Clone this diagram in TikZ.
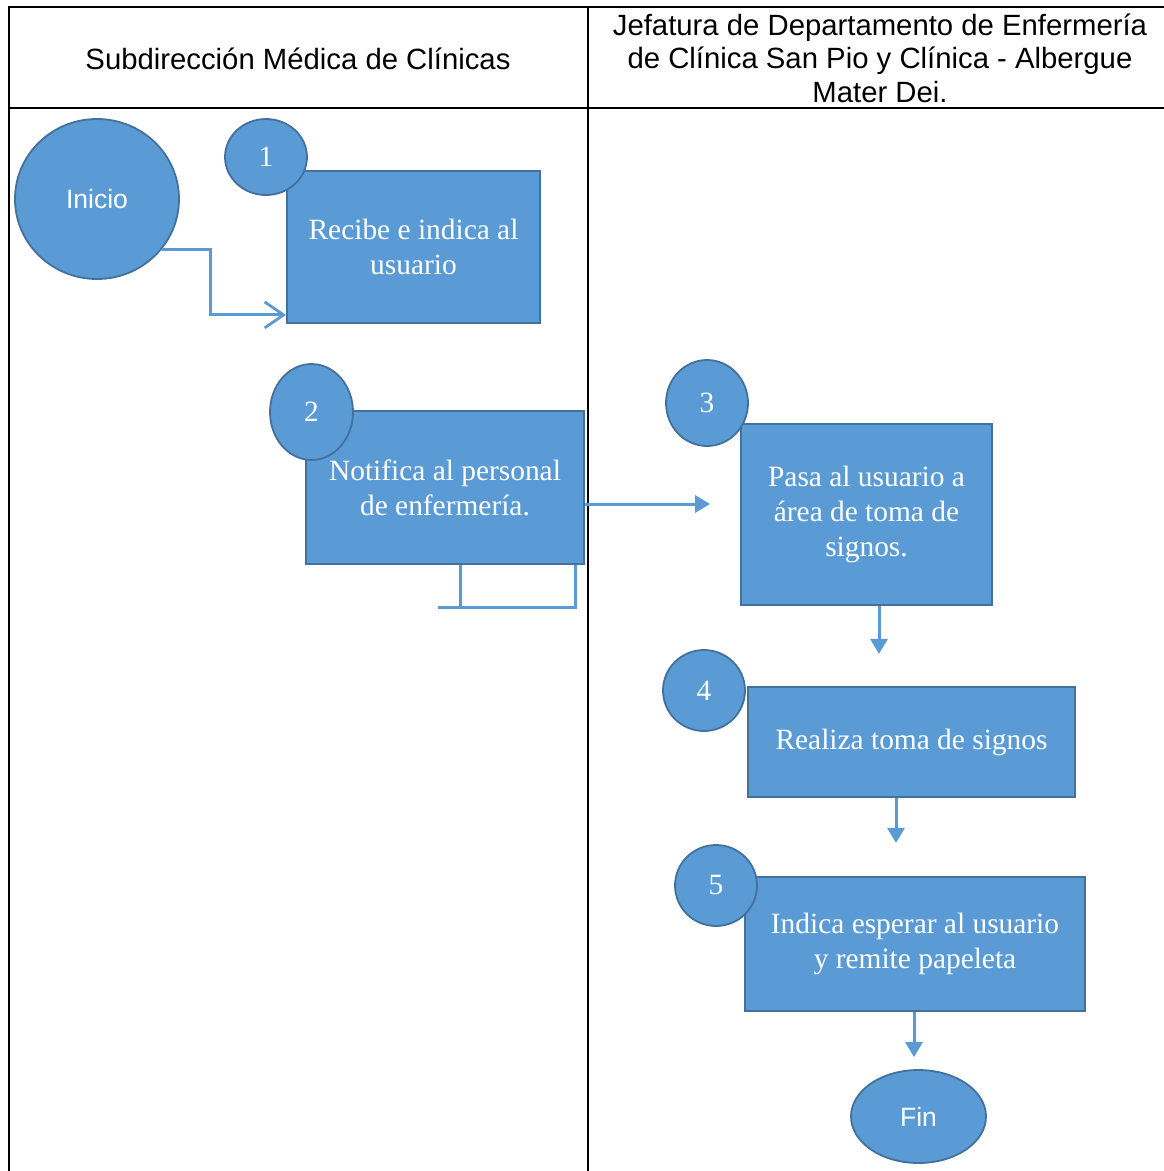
\documentclass[tikz,border=0pt]{standalone}
\usepackage{fontspec}
\setmainfont{Liberation Serif}
\newfontfamily\arialf{Liberation Sans}
\usetikzlibrary{arrows.meta,calc,shapes.geometric}
\definecolor{boxfill}{HTML}{5B9BD5}
\definecolor{boxline}{HTML}{41719C}
\tikzset{
  stepbox/.style={rectangle,draw=boxline,fill=boxfill,line width=1.8pt,text=white,align=center,font=\fontsize{29.4}{35}\selectfont,inner sep=0pt},
  numcirc/.style={ellipse,draw=boxline,fill=boxfill,line width=1.8pt,text=white,font=\fontsize{29.4}{35}\selectfont,inner sep=0pt},
  termshape/.style={ellipse,draw=boxline,fill=boxfill,line width=1.8pt,text=white,font=\arialf\fontsize{26.5}{31}\selectfont,inner sep=0pt},
  flow/.style={draw=boxfill,line width=3pt,-{Triangle[length=15pt,width=17pt]}},
  openflow/.style={draw=boxfill,line width=3pt,-{Straight Barb[length=19pt,width=26pt,line width=2.8pt]}},
  plainline/.style={draw=boxfill,line width=3pt},
  hdr/.style={align=center,font=\arialf\fontsize{29.3}{33.5}\selectfont,inner sep=0pt},
  frame/.style={draw=black,line width=2pt}
}
\begin{document}
\begin{tikzpicture}[x=1pt,y=-1pt]
\useasboundingbox (0,0) rectangle (1164,1171);
\fill[white] (0,0) rectangle (1164,1171);
% frame
\draw[frame] (9,1172) -- (9,7) -- (1166,7);
\draw[frame] (9,108) -- (1166,108);
\draw[frame] (588,7) -- (588,1172);
% headers
\node[hdr] (h1) at (298,59) {Subdirección Médica de Clínicas};
\node[hdr] (h2) at (880,58) {Jefatura de Departamento de Enfermería\\de Clínica San Pio y Clínica - Albergue\\Mater Dei.};
% boxes
\node[stepbox,minimum width=253pt,minimum height=152pt] (b1) at (413.5,247) {Recibe e indica al\\usuario};
\node[stepbox,minimum width=278pt,minimum height=153pt] (b2) at (445,487.5) {Notifica al personal\\de enfermería.};
\node[stepbox,minimum width=251pt,minimum height=181pt] (b3) at (866.5,514.5) {Pasa al usuario a\\área de toma de\\signos.};
\node[stepbox,minimum width=327pt,minimum height=110pt] (b4) at (911.5,742) {Realiza toma de signos};
\node[stepbox,minimum width=340pt,minimum height=134pt] (b5) at (915,944) {Indica esperar al usuario\\y remite papeleta};
% circles
\node[termshape,minimum width=164pt,minimum height=160pt] (inicio) at (97,199) {Inicio};
\node[numcirc,minimum width=82pt,minimum height=76pt] (c1) at (266,157) {1};
\node[numcirc,minimum width=83pt,minimum height=96pt] (c2) at (311.5,412) {2};
\node[numcirc,minimum width=82pt,minimum height=86pt] (c3) at (707,403) {3};
\node[numcirc,minimum width=82pt,minimum height=81pt] (c4) at (704,690.5) {4};
\node[numcirc,minimum width=82pt,minimum height=81pt] (c5) at (716,885.5) {5};
\node[termshape,minimum width=135pt,minimum height=93pt] (fin) at (918.5,1116.5) {Fin};
% connectors (y grows downward)
\coordinate (a1) at ($(b1.south west)+(0,-9)$);
\draw[openflow] (inicio.-38) -| ($(a1)+(-76,0)$) -- (a1);
\coordinate (e3) at ($(b3.west)+(-30,-10.5)$);
\draw[flow] (b2.east |- e3) -- (e3);
\coordinate (s2a) at ($(b2.south west)+(155,0)$);
\coordinate (s2b) at ($(b2.south east)+(-9,0)$);
\draw[plainline] (s2a) -- ++(0,43);
\draw[plainline] (s2b) -- ++(0,43) -- ++(-138,0);
\coordinate (t3) at ($(b3.south)+(12.5,48)$);
\draw[flow] ($(b3.south)+(12.5,0)$) -- (t3);
\coordinate (t4) at ($(b4.south)+(-15.5,45)$);
\draw[flow] ($(b4.south)+(-15.5,0)$) -- (t4);
\coordinate (t5) at ($(fin.north)+(-4.5,-12)$);
\draw[flow] (b5.south -| t5) -- (t5);
\end{tikzpicture}
\end{document}
